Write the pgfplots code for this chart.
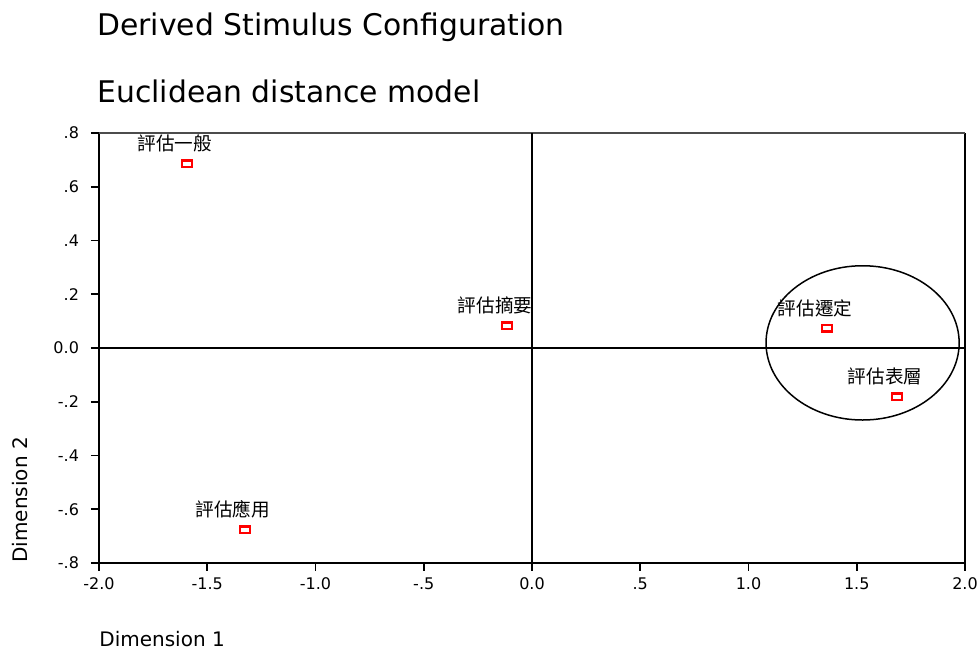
\documentclass[border=0pt]{standalone}
\usepackage{pgfplots}
\pgfplotsset{compat=1.18}
\usepackage{fontspec}
\setmainfont{DejaVu Sans}
\newfontfamily\cjk{Noto Sans CJK TC}

\begin{document}
\begin{tikzpicture}
\begin{axis}[
  scale only axis,
  width=433pt, height=215pt,
  xmin=-2, xmax=2, ymin=-0.8, ymax=0.8,
  axis x line*=bottom, axis y line*=left,
  axis line style={line width=1.1pt},
  xtick={-2,-1.5,-1,-0.5,0,0.5,1,1.5,2},
  xticklabels={-2.0,-1.5,-1.0,-.5,0.0,.5,1.0,1.5,2.0},
  ytick={-0.8,-0.6,-0.4,-0.2,0,0.2,0.4,0.6,0.8},
  yticklabels={-.8,-.6,-.4,-.2,0.0,.2,.4,.6,.8},
  tick align=outside, major tick length=4pt,
  tick style={line width=0.8pt, black},
  ticklabel style={font=\fontsize{8}{9}\selectfont},
  yticklabel style={xshift=-2.5pt},
  /pgf/number format/assume math mode=true,
  clip=false,
]
% frame: right thick, top thin grey
\draw[line width=1.1pt] (rel axis cs:1,0) -- (rel axis cs:1,1);
\draw[line width=0.6pt, black!70] (rel axis cs:0,1) -- (rel axis cs:1,1);
% reference lines through the origin
\draw[line width=0.7pt] (axis cs:0,-0.8) -- (axis cs:0,0.8);
\draw[line width=0.7pt] (axis cs:-2,0) -- (axis cs:2,0);

\addplot[only marks, mark=square, mark size=1.7pt,
  mark options={xscale=1.45, line width=1.1pt, draw=red, fill=white},
  point meta=explicit symbolic,
  nodes near coords={\cjk\pgfplotspointmeta},
  nodes near coords style={anchor=base, xshift=-6pt, yshift=6.5pt,
    font=\fontsize{9.3}{10}\selectfont, black}]
  table[meta=label] {
  x       y       label
  -1.594  0.685   評估一般
  -0.115  0.082   評估摘要
  1.363   0.074   評估遷定
  1.686   -0.182  評估表層
  -1.326  -0.677  評估應用
};

\draw[line width=0.75pt] (axis cs:1.527,0.019) ellipse [x radius=0.446, y radius=0.287];

\node[anchor=base west, inner sep=0pt, font=\fontsize{14.9}{16}\selectfont]
  at ([shift={(-1pt,48.5pt)}]rel axis cs:0,1) {Derived Stimulus Configuration};
\node[anchor=base west, inner sep=0pt, font=\fontsize{14.9}{16}\selectfont]
  at ([shift={(-1pt,15pt)}]rel axis cs:0,1) {Euclidean distance model};
\node[anchor=base west, inner sep=0pt, font=\fontsize{10}{12}\selectfont]
  at ([shift={(0pt,-42pt)}]rel axis cs:0,0) {Dimension 1};
\node[anchor=base west, inner sep=0pt, rotate=90, font=\fontsize{10}{12}\selectfont]
  at ([shift={(-35.5pt,0pt)}]rel axis cs:0,0) {Dimension 2};

\coordinate (SW) at (rel axis cs:0,0);
\coordinate (NE) at (rel axis cs:1,1);
\end{axis}
\pgfresetboundingbox
\path ([shift={(-49.5pt,-44.5pt)}]SW) rectangle ([shift={(6pt,66.5pt)}]NE);
\end{tikzpicture}
\end{document}
